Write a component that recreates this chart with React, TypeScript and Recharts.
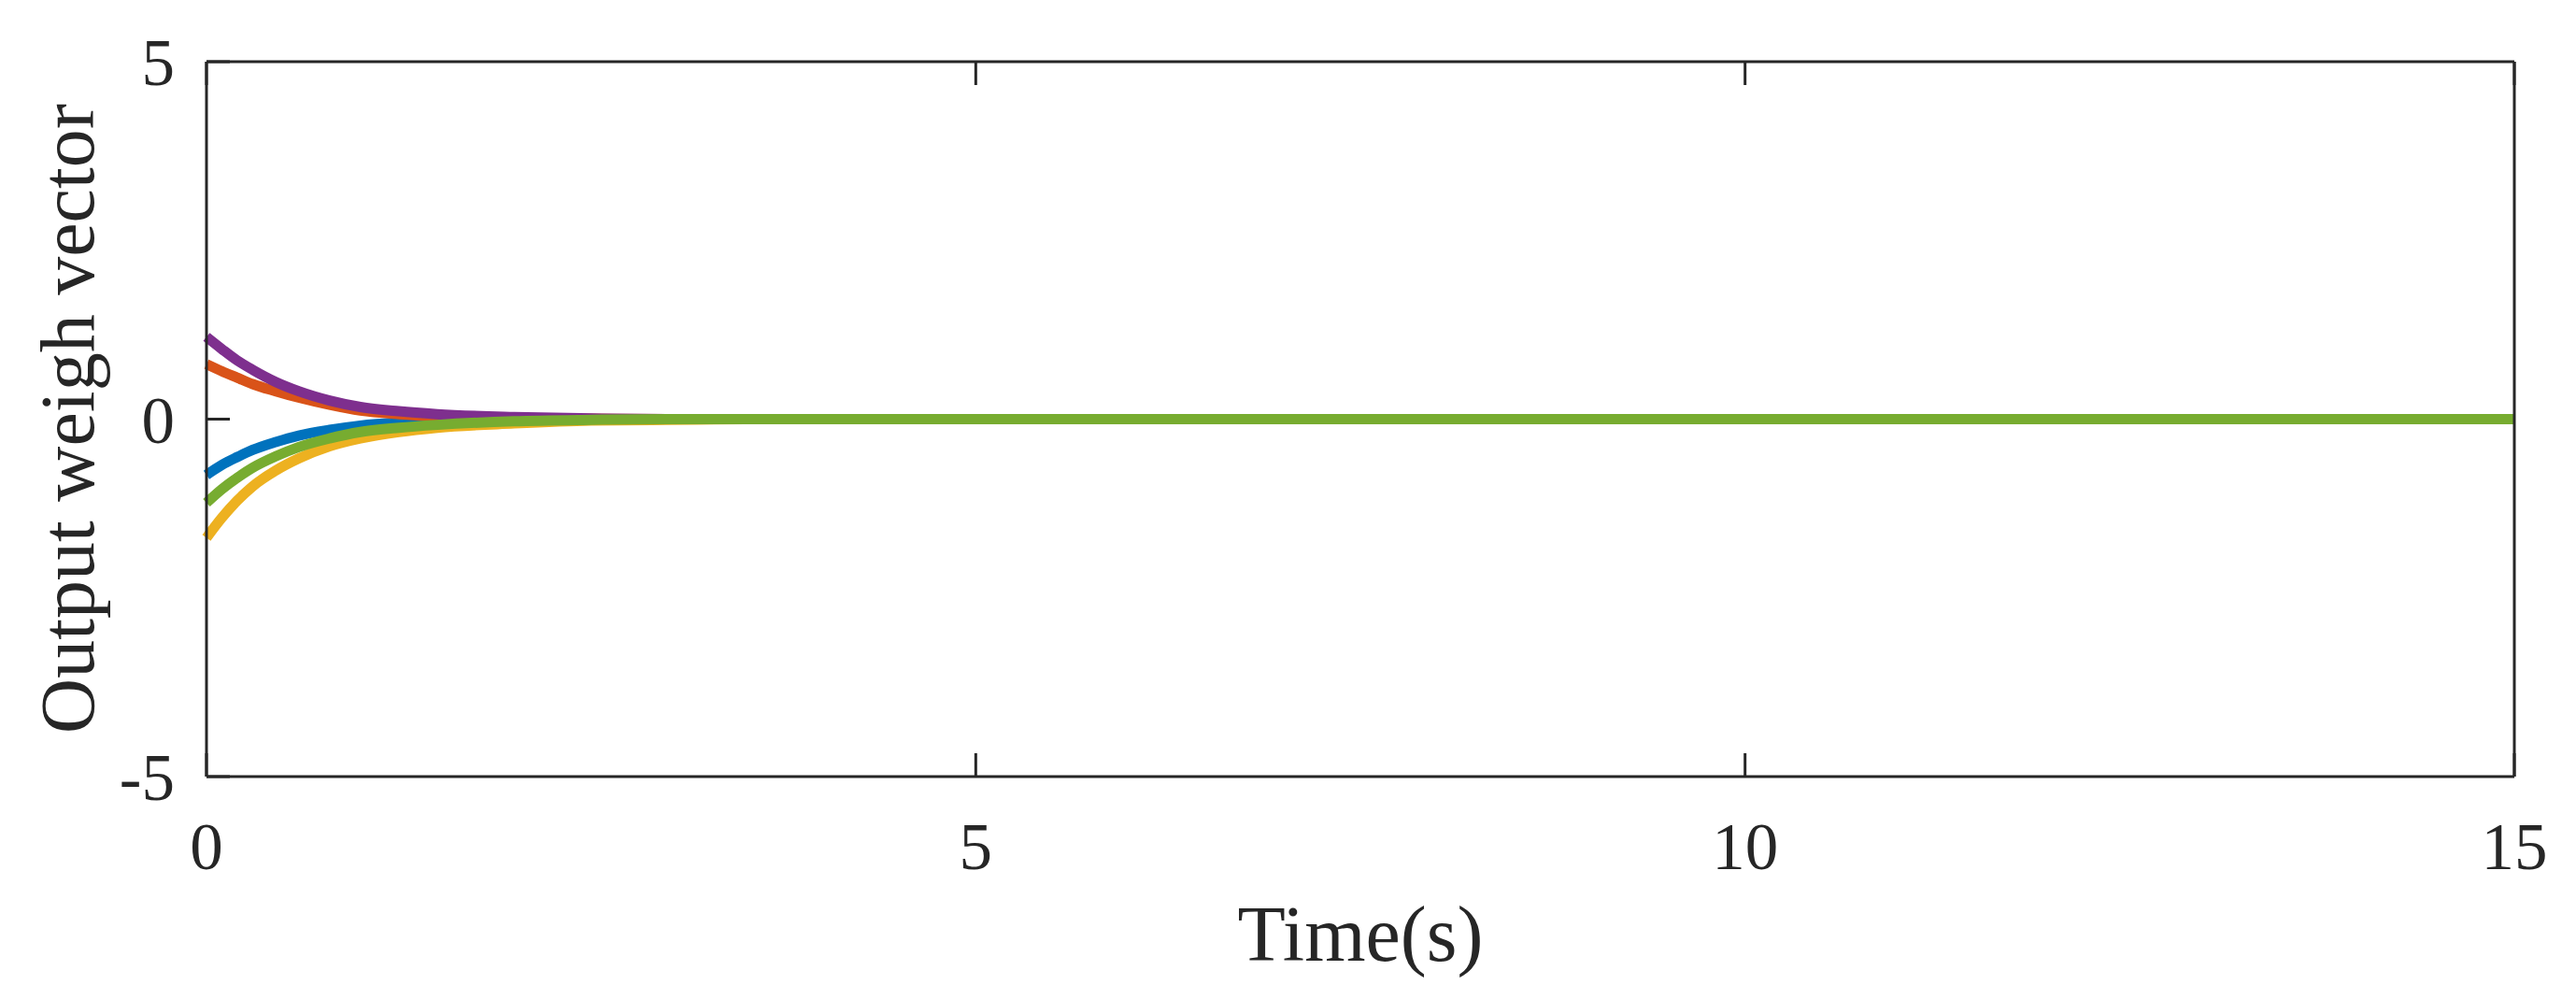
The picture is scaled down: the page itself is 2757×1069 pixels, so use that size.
import { Label, Line, LineChart, XAxis, YAxis } from "recharts";

const times = [0, 0.1, 0.2, 0.3, 0.45, 0.6, 0.8, 1.0, 1.25, 1.5, 2, 2.5, 3, 3.5, 15];

const blue = [-0.78, -0.64, -0.53, -0.43, -0.32, -0.23, -0.15, -0.09, -0.05, -0.03, -0.01, 0, 0, 0, 0];
const orange = [0.77, 0.67, 0.58, 0.49, 0.39, 0.3, 0.2, 0.12, 0.07, 0.04, 0.015, 0.005, 0, 0, 0];
const yellow = [-1.66, -1.38, -1.14, -0.94, -0.72, -0.55, -0.38, -0.27, -0.18, -0.12, -0.06, -0.02, -0.01, 0, 0];
const purple = [1.15, 0.98, 0.82, 0.69, 0.52, 0.39, 0.26, 0.17, 0.11, 0.07, 0.03, 0.01, 0, 0, 0];
const green = [-1.17, -0.98, -0.82, -0.68, -0.52, -0.39, -0.27, -0.18, -0.12, -0.08, -0.03, -0.01, 0, 0, 0];

const xTicks = [0, 5, 10, 15];
const yTicks = [-5, 0, 5];

const series = [
  { key: "w1", values: blue, color: "#0072BD" },
  { key: "w2", values: orange, color: "#D95319" },
  { key: "w3", values: yellow, color: "#EDB120" },
  { key: "w4", values: purple, color: "#7E2F8E" },
  { key: "w5", values: green, color: "#77AC30" },
];

const data = times.map((t, i) => {
  const row: Record<string, number> = { t };
  series.forEach((s) => {
    row[s.key] = s.values[i];
  });
  return row;
});

const ink = "#262626";
const font = "'Liberation Serif', 'Times New Roman', serif";
const tickFont = { fill: ink, fontSize: 71, fontFamily: font };
const blank = () => "";

export default function App() {
  return (
    <div style={{ position: "absolute", left: 0, top: 0, width: 2757, height: 1069, background: "#fff" }}>
      <LineChart width={2757} height={1069} data={data} margin={{ top: 0, right: 0, bottom: 0, left: 0 }}>
        <XAxis
          xAxisId="b"
          dataKey="t"
          type="number"
          domain={[0, 15]}
          ticks={xTicks}
          height={238}
          tickSize={-25}
          tickMargin={74}
          tick={tickFont}
          stroke={ink}
          strokeWidth={3}
          interval={0}
        >
          <Label
            content={() => (
              <text x={1456} y={1028} textAnchor="middle" fontSize={84} fontFamily={font} fill={ink}>
                Time(s)
              </text>
            )}
          />
        </XAxis>
        <XAxis
          xAxisId="top"
          orientation="top"
          dataKey="t"
          type="number"
          domain={[0, 15]}
          ticks={xTicks}
          height={66}
          tickSize={-25}
          tickFormatter={blank}
          stroke={ink}
          strokeWidth={3}
          interval={0}
        />
        <YAxis
          yAxisId="l"
          type="number"
          domain={[-5, 5]}
          ticks={yTicks}
          width={221}
          tickSize={-25}
          tickMargin={59}
          tick={tickFont}
          stroke={ink}
          strokeWidth={3}
          interval={0}
        >
          <Label
            content={() => (
              <text
                x={100}
                y={448}
                transform="rotate(-90, 100, 448)"
                textAnchor="middle"
                fontSize={82}
                fontFamily={font}
                fill={ink}
              >
                Output weigh vector
              </text>
            )}
          />
        </YAxis>
        <YAxis
          yAxisId="r"
          orientation="right"
          type="number"
          domain={[-5, 5]}
          ticks={yTicks}
          width={66}
          tickSize={-25}
          tickFormatter={blank}
          stroke={ink}
          strokeWidth={3}
          interval={0}
        />
        {series.map((s) => (
          <Line
            key={s.key}
            xAxisId="b"
            yAxisId="l"
            dataKey={s.key}
            type="monotone"
            stroke={s.color}
            strokeWidth={11}
            dot={false}
            isAnimationActive={false}
          />
        ))}
      </LineChart>
    </div>
  );
}
